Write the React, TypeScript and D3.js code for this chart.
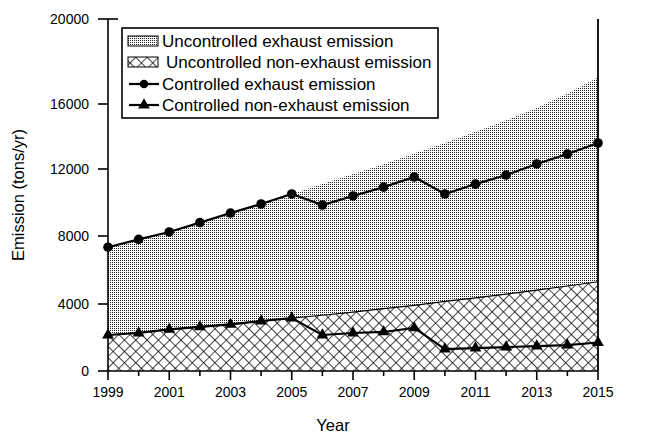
import React from "react";
import * as d3 from "d3";

const years = [1999, 2000, 2001, 2002, 2003, 2004, 2005, 2006, 2007, 2008, 2009, 2010, 2011, 2012, 2013, 2014, 2015];
const uncontrolledExhaust = [7340, 7800, 8240, 8780, 9370, 9910, 10510, 11100, 11700, 12300, 12950, 13600, 14300, 15000, 15750, 16500, 17250];
const uncontrolledNonExhaust = [2150, 2300, 2480, 2640, 2800, 2980, 3160, 3330, 3520, 3720, 3920, 4150, 4360, 4580, 4820, 5060, 5310];
const controlledExhaust = [7340, 7800, 8240, 8800, 9370, 9910, 10510, 9850, 10390, 10920, 11520, 10510, 11100, 11640, 12310, 12920, 13600];
const controlledNonExhaust = [2150, 2270, 2480, 2630, 2780, 2985, 3160, 2150, 2270, 2330, 2570, 1310, 1370, 1430, 1490, 1550, 1700];
const yTicks = [0, 4000, 8000, 12000, 16000, 20000];
const xLabelYears = [1999, 2001, 2003, 2005, 2007, 2009, 2011, 2013, 2015];
const legendLabels = [
  "Uncontrolled exhaust emission",
  "Uncontrolled non-exhaust emission",
  "Controlled exhaust emission",
  "Controlled non-exhaust emission",
];

const FONT = "'Liberation Sans', Arial, Helvetica, sans-serif";

export default function App() {
  const x = d3.scaleLinear().domain([1999, 2015]).range([108, 598]);
  const y = d3.scaleLinear().domain([0, 4000, 8000, 12000, 16000, 20000]).range([371, 304, 236, 169, 104, 19]);

  const areaGen = (vals: number[]) =>
    d3.area<number>().x((_, i) => x(years[i])).y0(y(0)).y1((d) => y(d))(vals) || "";
  const lineGen = (vals: number[]) =>
    d3.line<number>().x((_, i) => x(years[i])).y((d) => y(d))(vals) || "";
  const tri = d3.symbol().type(d3.symbolTriangle).size(60)() || "";

  const lx = 122, ly = 28, lw = 316, lh = 90;
  const rowY = [41, 62, 84, 105];

  return (
    <svg width={650} height={444} style={{ position: "absolute", left: 0, top: 0, background: "#fff" }}>
      <defs>
        <pattern id="dots" width={2} height={2} patternUnits="userSpaceOnUse">
          <rect width={2} height={2} fill="#fff" />
          <rect width={1} height={1} fill="#222" />
        </pattern>
        <pattern id="hatch" width={8} height={8} patternUnits="userSpaceOnUse" patternTransform="rotate(45)">
          <rect width={8} height={8} fill="#fff" />
          <path d="M0,0H8M0,0V8" stroke="#000" strokeWidth={1.4} />
        </pattern>
      </defs>
      <rect width={650} height={444} fill="#fff" />

      {/* areas */}
      <path d={areaGen(uncontrolledExhaust)} fill="url(#dots)" />
      <path d={areaGen(uncontrolledNonExhaust)} fill="url(#hatch)" />
      <path d={lineGen(uncontrolledNonExhaust)} fill="none" stroke="#000" strokeWidth={1.2} />

      {/* lines */}
      <path d={lineGen(controlledExhaust)} fill="none" stroke="#000" strokeWidth={2.2} />
      {controlledExhaust.map((v, i) => (
        <circle key={i} cx={x(years[i])} cy={y(v)} r={4.8} fill="#000" />
      ))}
      <path d={lineGen(controlledNonExhaust)} fill="none" stroke="#000" strokeWidth={2.2} />
      {controlledNonExhaust.map((v, i) => (
        <path key={i} d={tri} transform={`translate(${x(years[i])},${y(v)})`} fill="#000" />
      ))}

      {/* frame / axes */}
      <line x1={x(1999)} x2={x(1999)} y1={y(20000)} y2={y(0)} stroke="#000" strokeWidth={1.6} />
      <line x1={x(1999)} x2={x(2015)} y1={y(0)} y2={y(0)} stroke="#000" strokeWidth={1.6} />
      <line x1={x(2015)} x2={x(2015)} y1={y(20000)} y2={y(0)} stroke="#000" strokeWidth={1.8} />
      <line x1={x(1999)} x2={x(1999) + 10} y1={y(20000)} y2={y(20000)} stroke="#000" strokeWidth={1.6} />

      {yTicks.map((t) => (
        <g key={t}>
          <line x1={x(1999) - 10} x2={x(1999)} y1={y(t)} y2={y(t)} stroke="#000" strokeWidth={1.6} />
          <text x={89} y={y(t)} dy="0.35em" textAnchor="end" fontFamily={FONT} fontSize={14} fill="#000">
            {t}
          </text>
        </g>
      ))}
      {years.map((yr) => {
        const major = xLabelYears.includes(yr);
        return (
          <line key={yr} x1={x(yr)} x2={x(yr)} y1={y(0)} y2={y(0) + (major ? 9 : 5)} stroke="#000" strokeWidth={1.6} />
        );
      })}
      {xLabelYears.map((yr) => (
        <text key={yr} x={x(yr)} y={397} textAnchor="middle" fontFamily={FONT} fontSize={14} fill="#000">
          {yr}
        </text>
      ))}

      <text x={333} y={431} textAnchor="middle" fontFamily={FONT} fontSize={16.5} fill="#000">Year</text>
      <text transform={`translate(24,195) rotate(-90)`} textAnchor="middle" fontFamily={FONT} fontSize={16.5} fill="#000">
        Emission (tons/yr)
      </text>

      {/* legend */}
      <rect x={lx} y={ly} width={lw} height={lh} fill="#fff" stroke="#000" strokeWidth={1.6} />
      <rect x={128} y={rowY[0] - 5} width={30} height={10} fill="url(#dots)" stroke="#000" strokeWidth={1} />
      <rect x={128} y={rowY[1] - 5} width={30} height={10} fill="url(#hatch)" stroke="#000" strokeWidth={1} />
      <line x1={129} x2={159} y1={rowY[2]} y2={rowY[2]} stroke="#000" strokeWidth={2.2} />
      <circle cx={144} cy={rowY[2]} r={4.3} fill="#000" />
      <line x1={129} x2={159} y1={rowY[3]} y2={rowY[3]} stroke="#000" strokeWidth={2.2} />
      <path d={tri} transform={`translate(144,${rowY[3]})`} fill="#000" />
      {legendLabels.map((l, i) => (
        <text key={l} x={i === 1 ? 166 : 162} y={rowY[i]} dy="0.35em" fontFamily={FONT} fontSize={17} fill="#000">
          {l}
        </text>
      ))}
    </svg>
  );
}
